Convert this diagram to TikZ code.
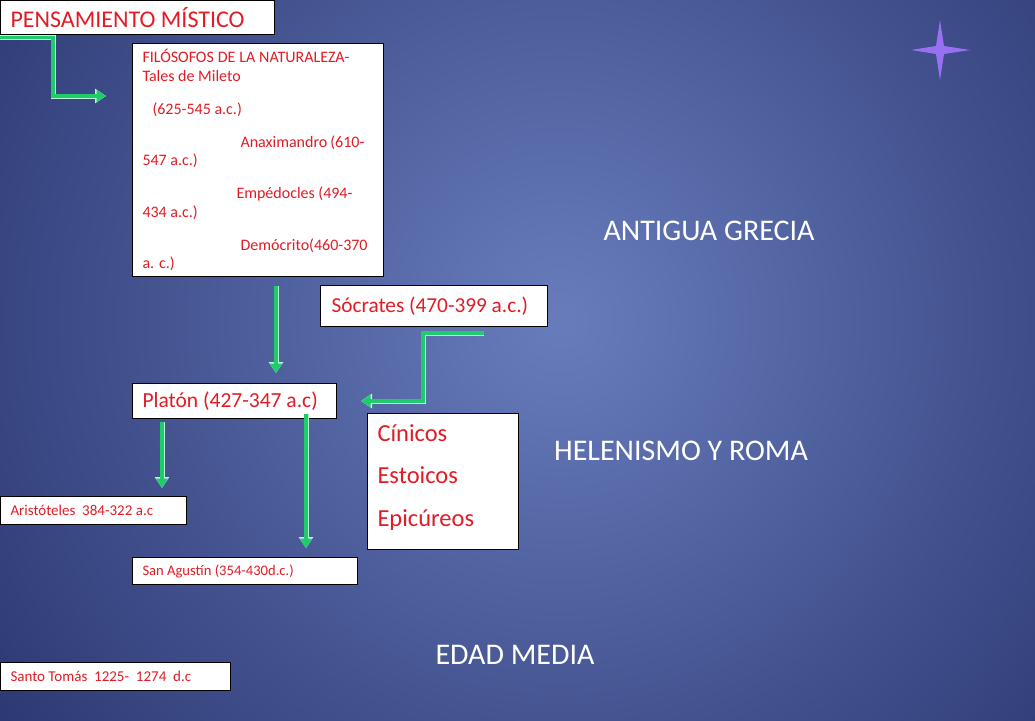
\documentclass[tikz,border=0pt]{standalone}
\usepackage{fontspec}
\setmainfont{Carlito}
\usetikzlibrary{arrows.meta}
\definecolor{bgin}{RGB}{104,124,188}
\definecolor{bgout}{RGB}{12,20,76}
\definecolor{txtred}{RGB}{225,28,38}
\definecolor{arrgreen}{RGB}{30,205,105}
\definecolor{arrlight}{RGB}{185,245,215}
\definecolor{starcol}{RGB}{152,112,242}
\begin{document}
\begin{tikzpicture}[x=1pt,y=-1pt,
  box/.style={draw=black, fill=white, line width=1pt, anchor=north west,
    inner xsep=10pt, inner ysep=0pt, text=txtred, align=left,
    execute at begin node={\spaceskip=0pt\xspaceskip=0pt}},
  era/.style={text=white, font=\fontsize{30}{35}\selectfont, inner sep=0pt},
  flowbase/.style={draw=arrlight, line width=5pt,
    -{Triangle[length=11pt,width=14pt]}},
  flow/.style={flowbase, postaction={draw=arrgreen, line width=3.4pt,
    -{Triangle[length=9.5pt,width=11.5pt]}}}]
\useasboundingbox (0,0) rectangle (1035,720);
\begin{scope}
\clip (0,0) rectangle (1035,720);
\shade[inner color=bgin, outer color=bgout] (560,320) circle (1060);
\end{scope}

% star
\fill[starcol] (940,20) -- (944,46) -- (970,50) -- (944,54) -- (940,80) -- (936,54) -- (911,50) -- (936,46) -- cycle;

% boxes
\node[box, minimum width=274pt, minimum height=34pt, text width=254pt,
  font=\fontsize{24}{28}\selectfont] (pens) at (0,0) {PENSAMIENTO MÍSTICO};

\node[box, minimum width=251pt, minimum height=233pt, text width=231pt,
  font=\fontsize{16}{18.5}\selectfont] (filo) at (132,43)
 {\hbox to 207pt{FILÓSOFOS\hfil DE\hfil LA\hfil NATURALEZA-}\\
  Tales de Mileto\\[14.5pt]
  \hspace*{10pt}(625-545 a.c.)\\[14.5pt]
  \hspace*{98pt}\hbox to 124pt{Anaximandro\hfil(610-}\\
  547 a.c.)\\[14.5pt]
  \hspace*{94pt}\hbox to 116pt{Empédocles\hfil(494-}\\
  434 a.c.)\\[14.5pt]
  \hspace*{98pt}Demócrito(460-370\\
  a. c.)};

\node[box, minimum width=225pt, minimum height=41pt, text width=205pt, inner xsep=11pt,
  font=\fontsize{21.3}{25}\selectfont] (soc) at (320,285) {Sócrates (470-399 a.c.)};

\node[box, minimum width=204pt, minimum height=35pt, text width=184pt,
  font=\fontsize{21.5}{25}\selectfont] (plat) at (132,383) {Platón (427-347 a.c)};

\node[box, minimum width=151pt, minimum height=136pt, text width=131pt,
  font=\fontsize{24.5}{42.5}\selectfont] (cin) at (367,413)
  {Cínicos\\ Estoicos\\ Epicúreos\par\vspace*{8pt}};

\node[box, minimum width=186pt, minimum height=28pt, text width=166pt,
  font=\fontsize{15}{18}\selectfont] (arist) at (0,496) {Aristóteles\ \ 384-322 a.c};

\node[box, minimum width=225pt, minimum height=27pt, text width=205pt,
  font=\fontsize{14.6}{18}\selectfont] (agus) at (132,557) {San Agustín (354-430d.c.)};

\node[box, minimum width=230pt, minimum height=28pt, text width=210pt,
  font=\fontsize{15}{18}\selectfont] (tomas) at (0,662) {Santo Tomás\ \ 1225-\ \ 1274\ \ d.c};

% era labels
\node[era] (grecia) at (709,231) {ANTIGUA GRECIA};
\node[era] (helen) at (681,451) {HELENISMO Y ROMA};
\node[era] (media) at (515,655) {EDAD MEDIA};

% connectors
\coordinate (t1) at ([shift={(-26,53)}]filo.north west);
\draw[flow] ([yshift=-2.5pt]pens.south west) -- ++(53,0) |- (t1);

\coordinate (s2) at ([shift={(18,9)}]filo.south);
\coordinate (t2) at ([shift={(144,-10)}]plat.north west);
\draw[flow] (s2) -- (t2);

\coordinate (s3) at ([shift={(-64,6)}]soc.south east);
\coordinate (t3) at ([xshift=24pt]plat.east);
\draw[flow] (s3) -- ++(-61,0) |- (t3);

\coordinate (s4) at ([shift={(30,3)}]plat.south west);
\coordinate (t4) at ([shift={(162,-8)}]arist.north west);
\draw[flow] (s4) -- (t4);

\coordinate (s5) at ([shift={(174,-5)}]plat.south west);
\coordinate (t5) at ([shift={(174,-9)}]agus.north west);
\draw[flow] (s5) -- (t5);
\end{tikzpicture}
\end{document}
